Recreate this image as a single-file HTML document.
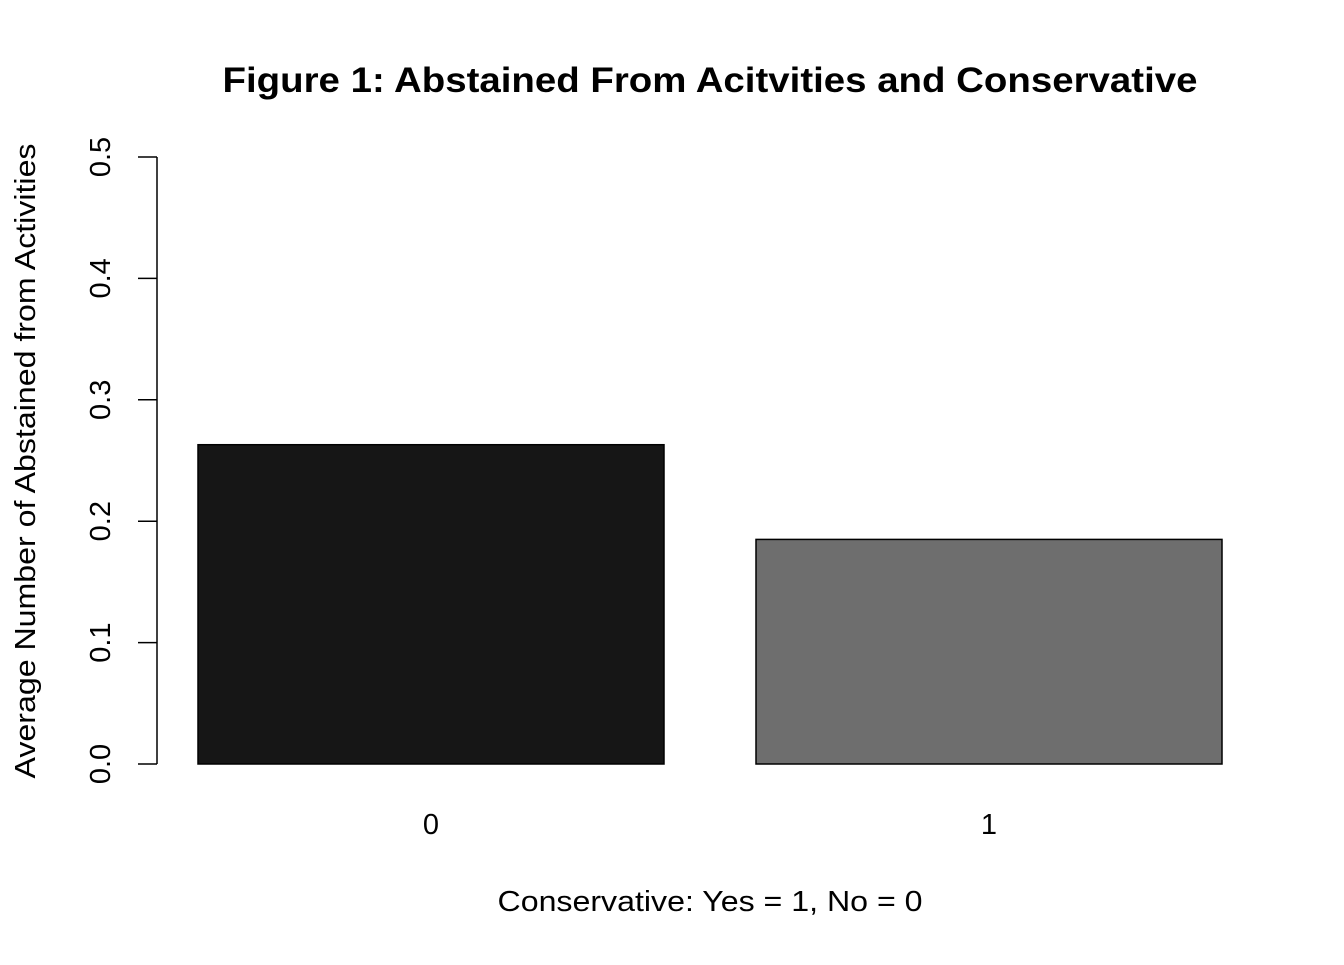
<!DOCTYPE html>
<html><head><meta charset="utf-8"><style>
body{margin:0;background:#fff}
svg text{font-family:"Liberation Sans",Arial,sans-serif;fill:#000}
</style></head><body>
<svg id="chart" width="1344" height="960" xmlns="http://www.w3.org/2000/svg">
<text x="710" y="92" font-size="35" font-weight="bold" text-anchor="middle" textLength="975" lengthAdjust="spacingAndGlyphs">Figure 1: Abstained From Acitvities and Conservative</text>
<text x="710" y="911" font-size="29" text-anchor="middle" textLength="425" lengthAdjust="spacingAndGlyphs">Conservative: Yes = 1, No = 0</text>
<text transform="translate(35,461) rotate(-90)" font-size="29" text-anchor="middle" textLength="635" lengthAdjust="spacingAndGlyphs">Average Number of Abstained from Activities</text>
<g id="axis"></g>
<g id="bars"></g>
<g id="xlabels"></g>
</svg>
<script>
const categories=["0","1"];
const values=[0.263,0.185];
const colors=["#161616","#6e6e6e"];
const yTicks=[0,0.1,0.2,0.3,0.4,0.5];
const tickLabels=["0.0","0.1","0.2","0.3","0.4","0.5"];
const NS="http://www.w3.org/2000/svg";
function y(v){return 764-(v/0.5)*607;}
function xb(i){return 198+i*558;}
const bw=466;
const ax=document.getElementById('axis');
function mk(t,a,p){const e=document.createElementNS(NS,t);for(const k in a)e.setAttribute(k,a[k]);p.appendChild(e);return e;}
const l=mk('line',{x1:157,x2:157,y1:y(yTicks[0]),y2:y(yTicks[yTicks.length-1]),stroke:'#000','stroke-width':1.5},ax);


yTicks.forEach((t,i)=>{
 const tk=mk('line',{x1:138,x2:157,y1:y(t),y2:y(t),stroke:'#000','stroke-width':1.5},ax);
 
 
 const tx=mk('text',{transform:`translate(110,${y(t)}) rotate(-90)`,'font-size':29,'text-anchor':'middle'},ax);
 tx.textContent=tickLabels[i];
 
 
});
const bg=document.getElementById('bars'),xl=document.getElementById('xlabels');
values.forEach((v,i)=>{
 const r=mk('rect',{x:xb(i),y:y(v),width:bw,height:y(0)-y(v),fill:colors[i],stroke:'#000','stroke-width':1.5},bg);
 
 
 const t=mk('text',{x:xb(i)+bw/2,y:834,'font-size':29,'text-anchor':'middle'},xl);
 t.textContent=categories[i];
 
 
});
</script>
</body></html>
